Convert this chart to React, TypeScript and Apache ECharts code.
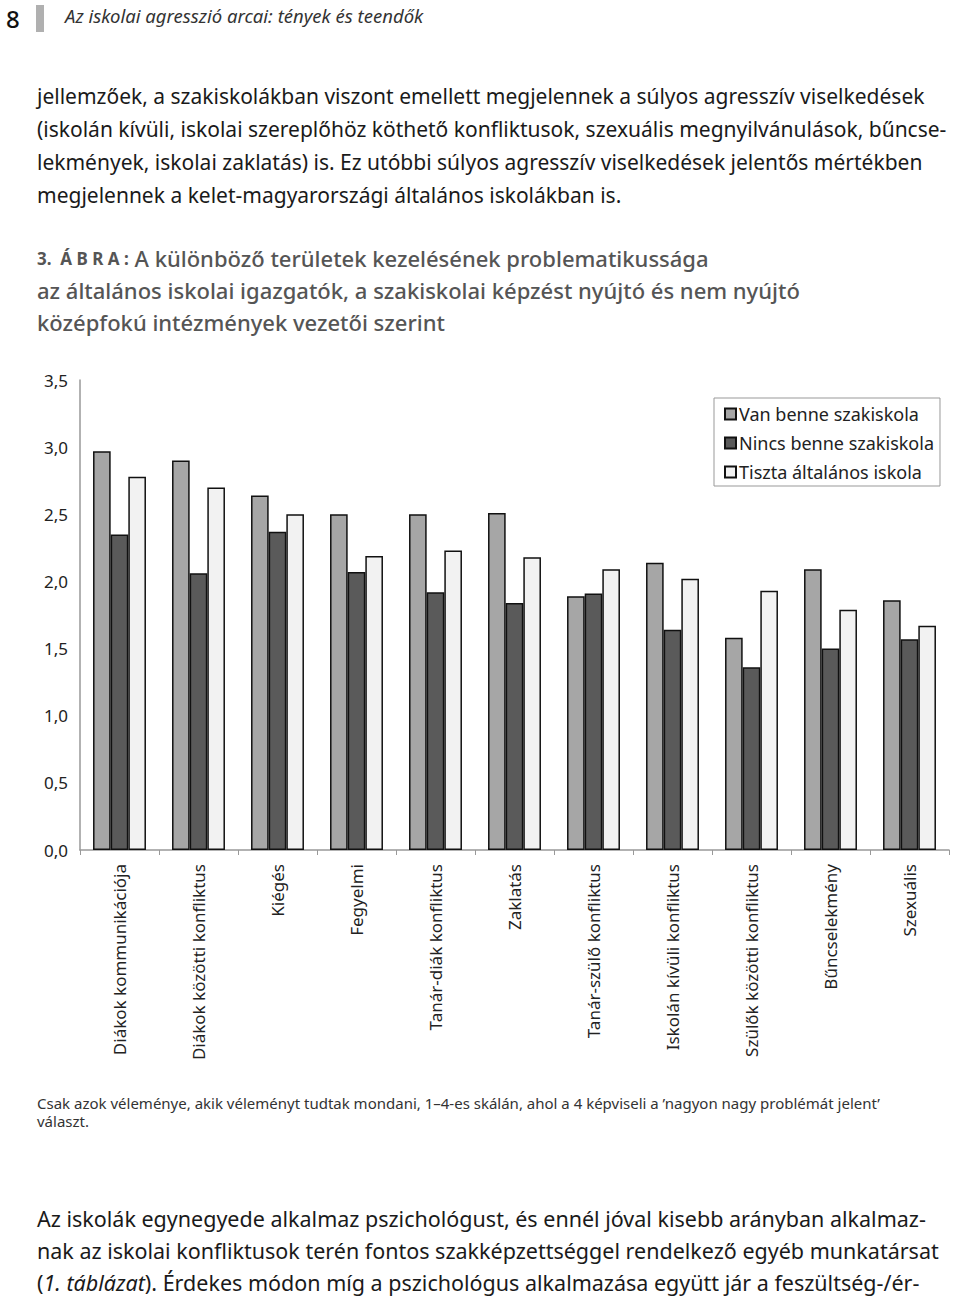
import React, { useEffect, useRef } from "react";
import * as echarts from "echarts";

const categories = [
  "Diákok kommunikációja",
  "Diákok közötti konfliktus",
  "Kiégés",
  "Fegyelmi",
  "Tanár-diák konfliktus",
  "Zaklatás",
  "Tanár-szülő konfliktus",
  "Iskolán kívüli konfliktus",
  "Szülők közötti konfliktus",
  "Bűncselekmény",
  "Szexuális",
];
const vanBenne = [2.97, 2.9, 2.64, 2.5, 2.5, 2.51, 1.89, 2.14, 1.58, 2.09, 1.86];
const nincsBenne = [2.35, 2.06, 2.37, 2.07, 1.92, 1.84, 1.91, 1.64, 1.36, 1.5, 1.57];
const tisztaAltalanos = [2.78, 2.7, 2.5, 2.19, 2.23, 2.18, 2.09, 2.02, 1.93, 1.79, 1.67];
const seriesNames = ["Van benne szakiskola", "Nincs benne szakiskola", "Tiszta általános iskola"];
const yTicks = [0, 0.5, 1, 1.5, 2, 2.5, 3, 3.5];

const headerTitle = "Az iskolai agresszió arcai: tények és teendők";
const paragraphLines = [
  "jellemzőek, a szakiskolákban viszont emellett megjelennek a súlyos agresszív viselkedések",
  "(iskolán kívüli, iskolai szereplőhöz köthető konfliktusok, szexuális megnyilvánulások, bűncse-",
  "lekmények, iskolai zaklatás) is. Ez utóbbi súlyos agresszív viselkedések jelentős mértékben",
  "megjelennek a kelet-magyarországi általános iskolákban is.",
];
const titleLines = [
  "A különböző területek kezelésének problematikussága",
  "az általános iskolai igazgatók, a szakiskolai képzést nyújtó és nem nyújtó",
  "középfokú intézmények vezetői szerint",
];
const footLines = [
  "Csak azok véleménye, akik véleményt tudtak mondani, 1–4-es skálán, ahol a 4 képviseli a ’nagyon nagy problémát jelent’",
  "választ.",
];
const bottomLines = [
  "Az iskolák egynegyede alkalmaz pszichológust, és ennél jóval kisebb arányban alkalmaz-",
  "nak az iskolai konfliktusok terén fontos szakképzettséggel rendelkező egyéb munkatársat",
];
const bottomLast = "Érdekes módon míg a pszichológus alkalmazása együtt jár a feszültség-/ér-";

const FONT = "'Noto Sans', 'Open Sans', sans-serif";

export default function App() {
  const ref = useRef<HTMLDivElement>(null);
  useEffect(() => {
    document.body.style.margin = "0";
    const chart = echarts.init(ref.current!, null, { renderer: "svg" });
    const colors = ["#a6a6a6", "#5a5a5a", "#f2f2f2"];
    const datas = [vanBenne, nincsBenne, tisztaAltalanos];
    const graphics: any[] = [];
    graphics.push({
      type: "text",
      left: 6,
      top: 6,
      style: { text: "8", font: `500 24px ${FONT}`, fill: "#111" },
    });
    graphics.push({
      type: "rect",
      shape: { x: 36, y: 5, width: 8, height: 27 },
      style: { fill: "#b0b0b0" },
    });
    graphics.push({
      type: "text",
      left: 65,
      top: 6,
      style: { text: headerTitle, font: `italic 18.5px ${FONT}`, fill: "#333" },
    });
    paragraphLines.forEach((t, i) => {
      graphics.push({
        type: "text",
        left: 37,
        top: 85 + i * 33,
        style: { text: t, font: `21px ${FONT}`, fill: "#1a1a1a" },
      });
    });
    graphics.push({
      type: "text",
      left: 37,
      top: 247,
      style: {
        text: "{a|3.  Á B R A :} " + titleLines[0],
        font: `500 22px ${FONT}`,
        fill: "#555",
        rich: { a: { font: `700 17px ${FONT}`, fill: "#555" } },
      },
    });
    titleLines.slice(1).forEach((t, i) => {
      graphics.push({
        type: "text",
        left: 37,
        top: 279 + i * 32,
        style: { text: t, font: `500 22px ${FONT}`, fill: "#555" },
      });
    });
    footLines.forEach((t, i) => {
      graphics.push({
        type: "text",
        left: 37,
        top: 1095 + i * 18,
        style: { text: t, font: `15px ${FONT}`, fill: "#333" },
      });
    });
    bottomLines.forEach((t, i) => {
      graphics.push({
        type: "text",
        left: 37,
        top: 1207 + i * 32,
        style: { text: t, font: `21.5px ${FONT}`, fill: "#1a1a1a" },
      });
    });
    graphics.push({
      type: "text",
      left: 37,
      top: 1271,
      style: {
        text: "({i|1. táblázat}). " + bottomLast,
        font: `21.5px ${FONT}`,
        fill: "#1a1a1a",
        rich: { i: { font: `italic 21.5px ${FONT}`, fill: "#1a1a1a" } },
      },
    });

    chart.setOption({
      animation: false,
      textStyle: { fontFamily: FONT },
      grid: { left: 80, top: 380, width: 869, height: 470, containLabel: false },
      legend: {
        orient: "vertical",
        left: 714,
        top: 398,
        width: 226,
        padding: [7, 6, 5, 10],
        itemGap: 11,
        itemWidth: 11,
        itemHeight: 11,
        icon: "rect",
        borderColor: "#999",
        borderWidth: 1,
        textStyle: { fontSize: 18, color: "#222", padding: [0, 0, 0, -2] },
        data: seriesNames,
      },
      xAxis: {
        type: "category",
        data: categories,
        axisLine: { lineStyle: { color: "#999", width: 1.5 } },
        axisTick: { show: true, length: 5, lineStyle: { color: "#999" } },
        axisLabel: { rotate: 90, fontSize: 17, color: "#222", margin: 14, interval: 0 },
      },
      yAxis: {
        type: "value",
        min: 0,
        max: 3.5,
        interval: 0.5,
        splitLine: { show: false },
        axisLine: { show: true, lineStyle: { color: "#999", width: 1.5 } },
        axisTick: { show: false },
        axisLabel: {
          fontSize: 17,
          color: "#222",
          margin: 12,
          formatter: (v: number) => (yTicks.includes(v) ? v.toFixed(1).replace(".", ",") : ""),
        },
      },
      series: datas.map((d, i) => ({
        type: "bar",
        name: seriesNames[i],
        data: d,
        barGap: "0%",
        barCategoryGap: "33%",
        itemStyle: { color: colors[i], borderColor: "#111", borderWidth: 1.5 },
      })),
      graphic: graphics,
    });
    return () => chart.dispose();
  }, []);
  return (
    <div
      ref={ref}
      style={{ position: "absolute", left: 0, top: 0, width: 960, height: 1300, background: "#fff" }}
    />
  );
}
